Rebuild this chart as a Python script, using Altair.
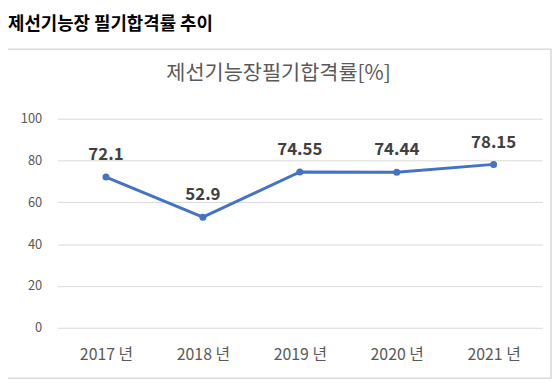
import altair as alt
import pandas as pd

years = ["2017 년", "2018 년", "2019 년", "2020 년", "2021 년"]
rates = [72.1, 52.9, 74.55, 74.44, 78.15]
labels = ["72.1", "52.9", "74.55", "74.44", "78.15"]
y_ticks = [0, 20, 40, 60, 80, 100]
main_title = "제선기능장 필기합격률 추이"
chart_title = "제선기능장필기합격률[%]"

df = pd.DataFrame({"year": years, "rate": rates, "label": labels})
one = pd.DataFrame({"t": [main_title], "c": [chart_title]})

FONT = "Noto Sans CJK KR"
BLUE = "#4472C4"

x = alt.X("year:N", sort=years, title=None,
          scale=alt.Scale(paddingInner=0, paddingOuter=0.5),
          axis=alt.Axis(labelAngle=0, labelFontSize=16, labelColor="#595959",
                        labelFont=FONT, labelPadding=19, ticks=False, domain=False,
                        grid=False))
y = alt.Y("rate:Q", title=None,
          scale=alt.Scale(domain=[0, 100]),
          axis=alt.Axis(values=y_ticks, labelFontSize=13, labelColor="#595959",
                        labelFont=FONT, labelPadding=16, ticks=False, domain=False,
                        gridColor="#d9d9d9", gridWidth=1))

border = alt.Chart(one).mark_rect(fill="transparent", stroke="#d9d9d9", strokeWidth=1.5).encode(
    x=alt.value(-52), x2=alt.value(498), y=alt.value(-70), y2=alt.value(262))

t1 = alt.Chart(one).mark_text(align="left", baseline="middle", fontSize=18,
                              fontWeight="bold", font=FONT, color="#000000").encode(
    text="t:N", x=alt.value(-50), y=alt.value(-95))
t2 = alt.Chart(one).mark_text(align="center", baseline="middle", fontSize=21,
                              font=FONT, color="#595959").encode(
    text="c:N", x=alt.value(223), y=alt.value(-45))

base = alt.Chart(df).encode(x=x, y=y)
line = base.mark_line(color=BLUE, strokeWidth=3)
pts = base.mark_circle(color=BLUE, size=50, opacity=1)
txt = base.mark_text(dy=-22, fontSize=17, fontWeight="bold", font=FONT,
                     color="#404040").encode(text="label:N")

chart = alt.layer(border, line, pts, txt, t1, t2).properties(
    width=489, height=211,
    autosize=alt.AutoSizeParams(type="none"),
    padding={"left": 50, "top": 110, "right": 10, "bottom": 54},
).configure_view(stroke=None)

chart.save("out.html", embed_options={"renderer": "svg", "actions": False})
